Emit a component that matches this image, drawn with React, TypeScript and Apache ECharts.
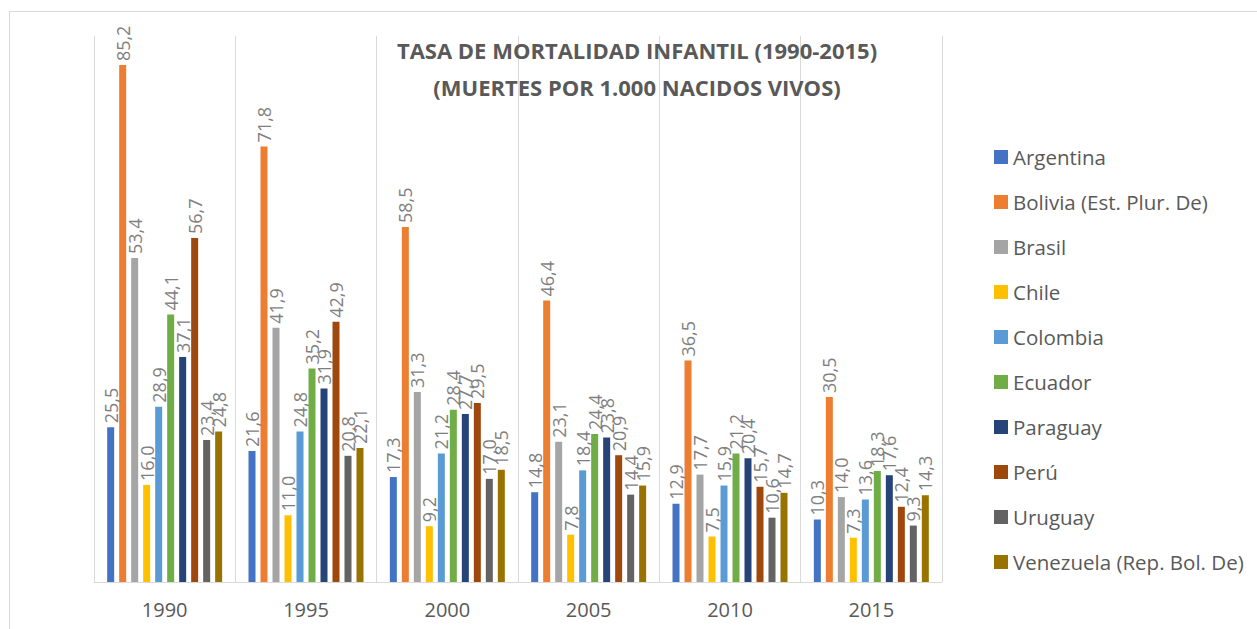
import React, { useEffect, useRef } from "react";
import * as echarts from "echarts";

const years = ["1990", "1995", "2000", "2005", "2010", "2015"];
const countries = [
  "Argentina",
  "Bolivia (Est. Plur. De)",
  "Brasil",
  "Chile",
  "Colombia",
  "Ecuador",
  "Paraguay",
  "Perú",
  "Uruguay",
  "Venezuela (Rep. Bol. De)",
];
const colors = [
  "#4472C4",
  "#ED7D31",
  "#A5A5A5",
  "#FFC000",
  "#5B9BD5",
  "#70AD47",
  "#264478",
  "#9E480E",
  "#636363",
  "#997300",
];
const argentina = [25.5, 21.6, 17.3, 14.8, 12.9, 10.3];
const bolivia = [85.2, 71.8, 58.5, 46.4, 36.5, 30.5];
const brasil = [53.4, 41.9, 31.3, 23.1, 17.7, 14.0];
const chile = [16.0, 11.0, 9.2, 7.8, 7.5, 7.3];
const colombia = [28.9, 24.8, 21.2, 18.4, 15.9, 13.6];
const ecuador = [44.1, 35.2, 28.4, 24.4, 21.2, 18.3];
const paraguay = [37.1, 31.9, 27.7, 23.8, 20.4, 17.6];
const peru = [56.7, 42.9, 29.5, 20.9, 15.7, 12.4];
const uruguay = [23.4, 20.8, 17.0, 14.4, 10.6, 9.3];
const venezuela = [24.8, 22.1, 18.5, 15.9, 14.7, 14.3];
const seriesValues = [
  argentina,
  bolivia,
  brasil,
  chile,
  colombia,
  ecuador,
  paraguay,
  peru,
  uruguay,
  venezuela,
];

const FONT = "'Open Sans', 'Noto Sans', sans-serif";

export default function App() {
  const ref = useRef<HTMLDivElement>(null);
  useEffect(() => {
    document.body.style.margin = "0";
    if (!ref.current) return;
    const chart = echarts.init(ref.current, null, { renderer: "svg" });
    chart.setOption({
      animation: false,
      backgroundColor: "#ffffff",
      color: colors,
      title: {
        text: "TASA DE MORTALIDAD INFANTIL (1990-2015)\n(MUERTES POR 1.000 NACIDOS VIVOS)",
        left: 637,
        textAlign: "center",
        top: 31,
        padding: 0,
        textStyle: {
          fontFamily: FONT,
          fontWeight: "bold",
          fontSize: 22,
          color: "#595959",
          lineHeight: 37,
        },
      },
      legend: {
        orient: "vertical",
        left: 994,
        top: 146,
        icon: "rect",
        itemWidth: 14,
        itemHeight: 14,
        itemGap: 23,
        padding: 0,
        data: countries,
        textStyle: {
          fontFamily: FONT,
          fontSize: 20.5,
          color: "#595959",
          lineHeight: 22,
        },
      },
      graphic: [
        {
          type: "rect",
          shape: { x: 9.5, y: 11.5, width: 1400, height: 800 },
          style: { fill: "none", stroke: "#d9d9d9", lineWidth: 1 },
          silent: true,
          z: -1,
        },
      ],
      grid: { left: 94, right: 315, top: 36, bottom: 47 },
      xAxis: {
        type: "category",
        data: years,
        boundaryGap: true,
        axisLine: { show: true, lineStyle: { color: "#d9d9d9", width: 1 } },
        axisTick: { show: false },
        splitLine: { show: true, lineStyle: { color: "#d9d9d9", width: 1 } },
        axisLabel: {
          fontFamily: FONT,
          fontSize: 20,
          color: "#595959",
          margin: 17,
        },
      },
      yAxis: {
        type: "value",
        min: 0,
        max: 90,
        show: false,
        splitLine: { show: false },
      },
      series: countries.map((name, i) => ({
        name,
        type: "bar",
        data: seriesValues[i],
        barWidth: 7,
        barGap: "71.4%",
        itemStyle: { color: colors[i] },
        label: {
          show: true,
          position: "top",
          rotate: 90,
          align: "left",
          verticalAlign: "middle",
          distance: 4,
          fontFamily: FONT,
          fontSize: 18,
          color: "#7f7f7f",
          formatter: (p: any) => Number(p.value).toFixed(1).replace(".", ","),
        },
      })),
    });
    return () => chart.dispose();
  }, []);
  return (
    <div
      ref={ref}
      style={{ position: "absolute", left: 0, top: 0, width: 1257, height: 629 }}
    />
  );
}
